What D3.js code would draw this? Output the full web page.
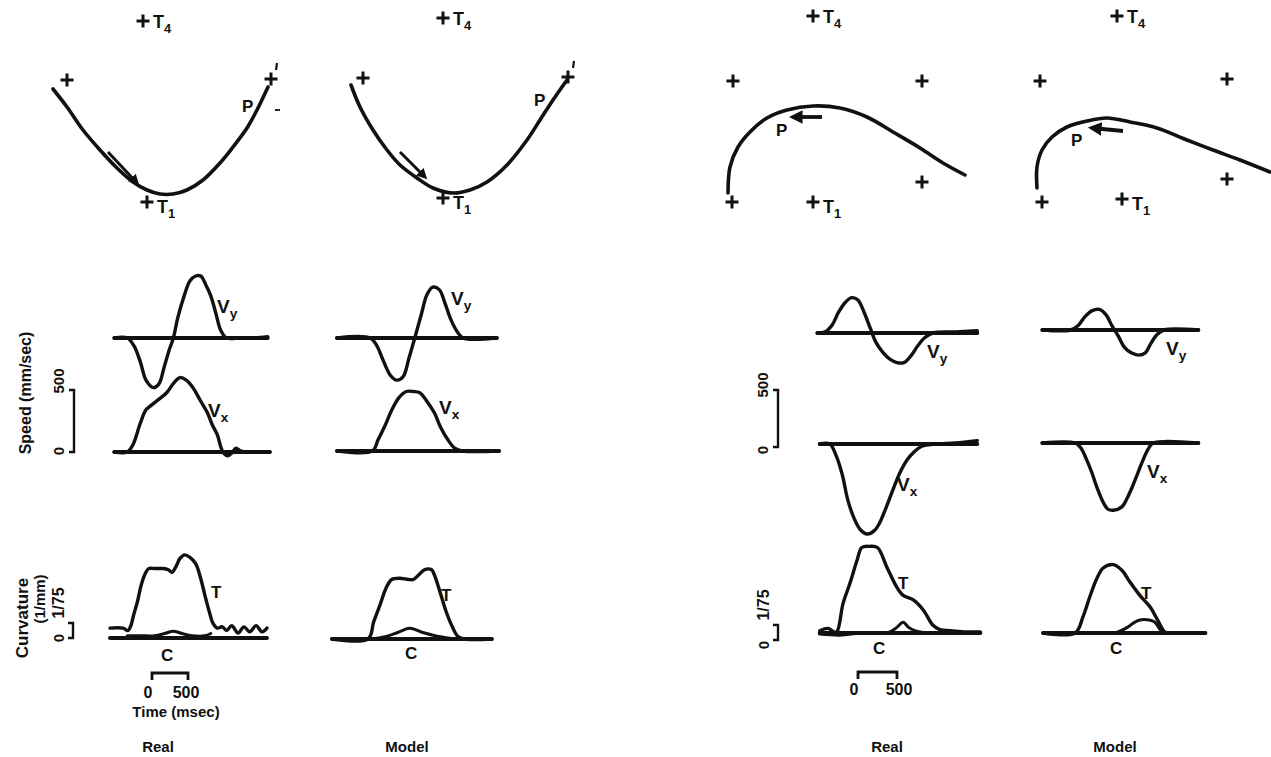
<!DOCTYPE html>
<html>
<head>
<meta charset="utf-8">
<script src="https://cdn.jsdelivr.net/npm/d3@7"></script>
<style>
  body { margin: 0; background: #fff; }
  svg text { font-family: "Liberation Sans", Arial, sans-serif; font-weight: bold; fill: #111; }
</style>
</head>
<body>
<svg id="chart" width="1271" height="757"></svg>
<script>
"use strict";

/* ---- hand paths (mm, origin at target T1, y up) ---- */
var realLeftPath = [[-188,226],[-160,190],[-128,144],[-94,104],[-60,68],[-28,40],[0,24],[26,16],[52,16],[80,24],[112,44],[146,78],[172,110],[200,148],[220,184],[242,230]];
var modelLeftPath = [[-184,226],[-166,182],[-140,136],[-112,96],[-86,66],[-52,40],[-20,20],[20,10],[54,16],[88,32],[128,66],[168,116],[194,156],[220,196],[248,236]];
var realRightPath = [[-170,18],[-166,70],[-150,110],[-126,140],[-92,168],[-52,184],[0,192],[54,188],[108,170],[160,140],[214,108],[260,78],[304,54]];
var modelRightPath = [[-170,22],[-170,64],[-160,98],[-140,124],[-110,144],[-70,156],[-30,162],[16,154],[70,142],[130,118],[182,98],[236,78],[296,54]];

// targets: T1 first, T4 second, then the others
var realLeftTargets = [[0,0],[-8,362],[-160,244],[248,246]];
var modelLeftTargets = [[0,0],[0,360],[-160,240],[250,242]];
var realRightTargets = [[0,0],[0,372],[-160,242],[218,242],[218,40],[-162,0]];
var modelRightTargets = [[0,0],[-10,366],[-164,236],[210,240],[210,40],[-160,-6]];

// direction arrows [from, to]
var realLeftArrow = [[-78,100],[-20,38]];
var modelLeftArrow = [[-86,92],[-36,42]];
var realRightArrow = [[18,170],[-40,170]];
var modelRightArrow = [[2,136],[-60,142]];

/* ---- speed (mm/sec) vs time (msec) ---- */
var realLeftVy = [[60,0],[240,0],[330,-60],[420,-190],[500,-340],[600,-400],[680,-370],[750,-240],[820,-100],[880,0],[940,160],[1030,340],[1110,460],[1190,500],[1260,500],[1330,430],[1400,340],[1470,200],[1540,60],[1620,0],[1810,0],[2010,0],[2190,10]];
var realLeftVx = [[60,0],[240,0],[320,60],[420,230],[500,340],[580,380],[690,430],[790,480],[890,560],[970,600],[1060,580],[1150,520],[1250,420],[1350,320],[1420,220],[1490,140],[1540,40],[1580,-10],[1640,-30],[1690,-10],[1750,30],[1810,10],[1940,0],[2220,0]];
var modelLeftVy = [[70,0],[530,0],[620,-60],[710,-180],[810,-300],[900,-340],[990,-310],[1070,-160],[1150,0],[1240,190],[1320,350],[1400,410],[1490,390],[1570,280],[1650,150],[1740,50],[1820,0],[2290,0]];
var modelLeftVx = [[70,0],[560,0],[640,90],[740,210],[830,330],[930,430],[1030,480],[1130,480],[1220,470],[1320,400],[1420,310],[1510,190],[1610,90],[1710,20],[1810,0],[2320,0]];
var realRightVy = [[30,0],[130,10],[220,70],[300,180],[390,270],[470,310],[550,290],[630,180],[710,40],[780,-80],[870,-170],[960,-230],[1050,-260],[1140,-260],[1230,-200],[1320,-110],[1410,-40],[1510,0],[1800,10],[2080,20]];
var realRightVx = [[60,0],[190,0],[270,-100],[350,-270],[420,-490],[500,-650],[580,-750],[670,-790],[760,-760],[830,-690],[910,-560],[1000,-400],[1090,-250],[1180,-140],[1270,-70],[1370,-20],[1540,0],[1800,10],[2080,30]];
var modelRightVy = [[30,0],[390,0],[490,40],[580,120],[670,170],[760,180],[850,130],[920,40],[1000,-50],[1080,-150],[1170,-200],[1260,-220],[1350,-200],[1420,-120],[1500,-40],[1590,0],[2030,0]];
var modelRightVx = [[30,0],[450,0],[520,-40],[600,-150],[670,-270],[730,-390],[810,-520],[870,-580],[940,-590],[1050,-560],[1120,-480],[1180,-390],[1250,-270],[1320,-150],[1390,-50],[1450,0],[2030,0]];

/* ---- tangential speed T (mm/sec) and curvature C (1/mm) ---- */
var realLeftT = [[0,80],[180,80],[250,60],[290,100],[330,190],[380,290],[430,420],[490,520],[540,560],[620,560],[740,560],[810,550],[860,530],[920,580],[970,640],[1040,670],[1110,650],[1190,600],[1260,480],[1320,340],[1380,210],[1430,120],[1490,80],[1560,90],[1620,60],[1690,100],[1780,40],[1860,90],[1940,50],[2030,100],[2110,50],[2180,80]];
var realLeftC = [[240,0.002],[420,0.002],[620,0.002],[760,0.004],[880,0.006],[1000,0.004],[1140,0.002],[1320,0.002],[1400,0.004]];
var modelLeftT = [[0,0],[500,0],[580,140],[670,280],[750,410],[830,480],[940,490],[1060,480],[1130,480],[1210,520],[1290,560],[1380,560],[1420,520],[1500,380],[1580,230],[1670,100],[1750,20],[1850,0],[2220,0]];
var modelLeftC = [[530,0],[740,0.002],[920,0.006],[1080,0.0095],[1250,0.006],[1460,0.0025],[1710,0]];
var realRightT = [[60,20],[170,40],[240,10],[280,10],[360,260],[450,440],[540,640],[600,750],[700,760],[800,750],[920,580],[1050,400],[1130,330],[1260,290],[1390,200],[1510,70],[1600,30],[1730,20],[1920,10],[2120,10]];
var realRightC = [[60,-0.001],[320,-0.002],[580,0],[960,0.001],[1050,0.005],[1130,0.0095],[1200,0.005],[1280,0.002],[1410,0]];
var modelRightT = [[40,0],[450,0],[550,140],[640,320],[730,480],[810,570],[940,600],[1050,550],[1150,450],[1280,330],[1410,230],[1510,110],[1600,10],[1670,0],[2120,0]];
var modelRightC = [[940,0],[1000,0.001],[1120,0.005],[1200,0.009],[1280,0.0115],[1400,0.0115],[1470,0.0098],[1540,0.003],[1580,0]];

// scale bar values
var speedBar = 500;       // mm/sec
var curvBar = 1 / 75;     // 1/mm
var timeBar = 500;        // msec

var svg = d3.select("#chart");
var INK = "#111";

svg.append("defs").append("marker")
  .attr("id", "ah")
  .attr("viewBox", "0 0 10 10")
  .attr("refX", 7).attr("refY", 5)
  .attr("markerWidth", 3.6).attr("markerHeight", 3.6)
  .attr("orient", "auto")
  .append("path").attr("d", "M0,0 L10,5 L0,10 z").attr("fill", INK);

function subText(g, x, y, main, sub, size) {
  var t = g.append("text").attr("x", x).attr("y", y).style("font-size", size + "px");
  t.append("tspan").text(main);
  t.append("tspan").attr("dy", size * 0.28).style("font-size", (size * 0.72) + "px").text(sub);
  return t;
}

/* ---- trajectory panels ---- */
function drawTraj(lay, path, targets, arrow) {
  // 2 mm per pixel
  var sx = d3.scaleLinear().domain([0, 100]).range([lay.ox, lay.ox + 50]);
  var sy = d3.scaleLinear().domain([0, 100]).range([lay.oy, lay.oy - 50]);
  var g = svg.append("g");

  g.append("path").datum(path)
    .attr("d", d3.line().x(d => sx(d[0])).y(d => sy(d[1])).curve(d3.curveCatmullRom.alpha(0.5)))
    .attr("fill", "none").attr("stroke", INK).attr("stroke-width", 3.6).attr("stroke-linecap", "round");

  g.selectAll(".tgt").data(targets).enter().append("path")
    .attr("d", function (d) {
      var x = sx(d[0]), y = sy(d[1]);
      return "M" + (x - 6.5) + "," + y + "H" + (x + 6.5) + "M" + x + "," + (y - 6.5) + "V" + (y + 6.5);
    })
    .attr("stroke", INK).attr("stroke-width", 3);

  g.append("line")
    .attr("x1", sx(arrow[0][0])).attr("y1", sy(arrow[0][1]))
    .attr("x2", sx(arrow[1][0])).attr("y2", sy(arrow[1][1]))
    .attr("stroke", INK).attr("stroke-width", lay.arrowW)
    .attr("marker-end", "url(#ah)");

  subText(g, sx(targets[1][0]) + 10, sy(targets[1][1]) + 7, "T", "4", 18);
  subText(g, sx(0) + 10, sy(0) + 11, "T", "1", 18);
  g.append("text").attr("x", sx(lay.p[0])).attr("y", sy(lay.p[1])).style("font-size", "17px").text("P");

  if (lay.tick) {
    var tx = sx(targets[3][0]), ty = sy(targets[3][1]);
    g.append("line").attr("x1", tx + 6).attr("y1", ty - 16).attr("x2", tx + 5).attr("y2", ty - 9)
      .attr("stroke", INK).attr("stroke-width", 2.2);
  }
  if (lay.dash) {
    g.append("line").attr("x1", lay.dash[0]).attr("y1", lay.dash[1]).attr("x2", lay.dash[0] + 5).attr("y2", lay.dash[1])
      .attr("stroke", INK).attr("stroke-width", 1.8);
  }
}

drawTraj({ ox: 147, oy: 202, p: [190, 180], arrowW: 3, tick: true, dash: [275, 110] }, realLeftPath, realLeftTargets, realLeftArrow);
drawTraj({ ox: 443, oy: 198, p: [182, 184], arrowW: 3, tick: true }, modelLeftPath, modelLeftTargets, modelLeftArrow);
drawTraj({ ox: 813, oy: 202, p: [-74, 132], arrowW: 3.8 }, realRightPath, realRightTargets, realRightArrow);
drawTraj({ ox: 1122, oy: 199, p: [-102, 106], arrowW: 3.8 }, modelRightPath, modelRightTargets, modelRightArrow);

/* ---- time course panels ---- */
var columns = [
  { vy: realLeftVy, vx: realLeftVx, t: realLeftT, c: realLeftC,
    tx0: 110, msPerPx: 13.89, pxPerSpeed: 62 / 500, vyBase: 338, vxBase: 452, curvBase: 638,
    vyLab: [217, 313], vxLab: [208, 417], tLab: [211, 598], cLab: [161, 661], name: "Real", nameX: 158 },
  { vy: modelLeftVy, vx: modelLeftVx, t: modelLeftT, c: modelLeftC,
    tx0: 332, msPerPx: 13.89, pxPerSpeed: 62 / 500, vyBase: 338, vxBase: 451, curvBase: 639,
    vyLab: [451, 305], vxLab: [439, 414], tLab: [441, 601], cLab: [405, 659], name: "Model", nameX: 407 },
  { vy: realRightVy, vx: realRightVx, t: realRightT, c: realRightC,
    tx0: 815, msPerPx: 12.82, pxPerSpeed: 57 / 500, vyBase: 333, vxBase: 444, curvBase: 633,
    vyLab: [927, 358], vxLab: [897, 491], tLab: [898, 589], cLab: [873, 654], name: "Real", nameX: 887 },
  { vy: modelRightVy, vx: modelRightVx, t: modelRightT, c: modelRightC,
    tx0: 1040, msPerPx: 12.82, pxPerSpeed: 57 / 500, vyBase: 330, vxBase: 443, curvBase: 633,
    vyLab: [1166, 355], vxLab: [1147, 478], tLab: [1141, 599], cLab: [1110, 654], name: "Model", nameX: 1115 }
];

var pxPerCurv = 15 * 75; // 15 px for 1/75 per mm

function drawTrace(g, data, x, y, w) {
  g.append("path").datum(data)
    .attr("d", d3.line().x(d => x(d[0])).y(d => y(d[1])).curve(d3.curveCatmullRom.alpha(0.5)))
    .attr("fill", "none").attr("stroke", INK).attr("stroke-width", w)
    .attr("stroke-linejoin", "round").attr("stroke-linecap", "round");
}

function drawBase(g, data, x, y) {
  var ext = d3.extent(data, d => d[0]);
  g.append("line")
    .attr("x1", x(ext[0])).attr("x2", x(ext[1]))
    .attr("y1", y(0)).attr("y2", y(0))
    .attr("stroke", INK).attr("stroke-width", 4).attr("stroke-linecap", "round");
}

columns.forEach(function (col) {
  var g = svg.append("g");
  var x = d3.scaleLinear().domain([0, 2400]).range([col.tx0, col.tx0 + 2400 / col.msPerPx]);
  var ext = 1000 * col.pxPerSpeed;
  var yVy = d3.scaleLinear().domain([-1000, 1000]).range([col.vyBase + ext, col.vyBase - ext]);
  var yVx = d3.scaleLinear().domain([-1000, 1000]).range([col.vxBase + ext, col.vxBase - ext]);
  var yT = d3.scaleLinear().domain([-1000, 1000]).range([col.curvBase + ext, col.curvBase - ext]);
  var yC = d3.scaleLinear().domain([-0.05, 0.05]).range([col.curvBase + 0.05 * pxPerCurv, col.curvBase - 0.05 * pxPerCurv]);

  drawBase(g, col.vy, x, yVy);
  drawTrace(g, col.vy, x, yVy, 3.4);
  drawBase(g, col.vx, x, yVx);
  drawTrace(g, col.vx, x, yVx, 3.4);
  drawBase(g, col.t, x, yT);
  drawTrace(g, col.t, x, yT, 3.4);
  drawTrace(g, col.c, x, yC, 3);

  subText(g, col.vyLab[0], col.vyLab[1], "V", "y", 19);
  subText(g, col.vxLab[0], col.vxLab[1], "V", "x", 19);
  g.append("text").attr("x", col.tLab[0]).attr("y", col.tLab[1]).style("font-size", "17px").text("T");
  g.append("text").attr("x", col.cLab[0]).attr("y", col.cLab[1]).style("font-size", "17px").text("C");
  g.append("text").attr("x", col.nameX).attr("y", 752).attr("text-anchor", "middle").style("font-size", "15px").text(col.name);
});

/* ---- scale bars ---- */
function vBar(xp, y0, pxPer, value) {
  var y = d3.scaleLinear().domain([0, value]).range([y0, y0 - value * pxPer]);
  svg.append("path")
    .attr("d", "M" + (xp - 5) + "," + y(value) + "H" + xp + "V" + y(0) + "H" + (xp - 5))
    .attr("fill", "none").attr("stroke", INK).attr("stroke-width", 2.4);
}
function hBar(x0, yp, msPerPx, value) {
  var x = d3.scaleLinear().domain([0, value]).range([x0, x0 + value / msPerPx]);
  svg.append("path")
    .attr("d", "M" + x(0) + "," + (yp + 7) + "V" + yp + "H" + x(value) + "V" + (yp + 7))
    .attr("fill", "none").attr("stroke", INK).attr("stroke-width", 2.8);
}

vBar(74, 452, columns[0].pxPerSpeed, speedBar);
vBar(778, 447, columns[2].pxPerSpeed, speedBar);
vBar(73, 638, pxPerCurv, curvBar);
vBar(778, 640, pxPerCurv, curvBar);
hBar(152, 673, columns[0].msPerPx, timeBar);
hBar(858, 672, columns[2].msPerPx, timeBar);

function vText(x, y, txt, size, anchor) {
  svg.append("text")
    .attr("transform", "translate(" + x + "," + y + ") rotate(-90)")
    .attr("text-anchor", anchor || "middle")
    .style("font-size", size + "px")
    .text(txt);
}

// left axis labels
vText(31, 393, "Speed (mm/sec)", 16);
vText(64, 381, "500", 15);
vText(64, 451, "0", 15);
vText(28, 618, "Curvature", 17);
vText(45, 599, "(1/mm)", 15);
vText(64, 603, "1/75", 16);
vText(64, 638, "0", 15);
// right axis labels
vText(768, 385, "500", 15);
vText(768, 450, "0", 15);
vText(769, 605, "1/75", 16);
vText(769, 645, "0", 15);

// time labels
svg.append("text").attr("x", 148).attr("y", 698).attr("text-anchor", "middle").style("font-size", "16px").text("0");
svg.append("text").attr("x", 186).attr("y", 698).attr("text-anchor", "middle").style("font-size", "16px").text("500");
svg.append("text").attr("x", 176).attr("y", 717).attr("text-anchor", "middle").style("font-size", "15px").text("Time (msec)");
svg.append("text").attr("x", 854).attr("y", 695).attr("text-anchor", "middle").style("font-size", "16px").text("0");
svg.append("text").attr("x", 899).attr("y", 695).attr("text-anchor", "middle").style("font-size", "16px").text("500");
</script>
</body>
</html>
